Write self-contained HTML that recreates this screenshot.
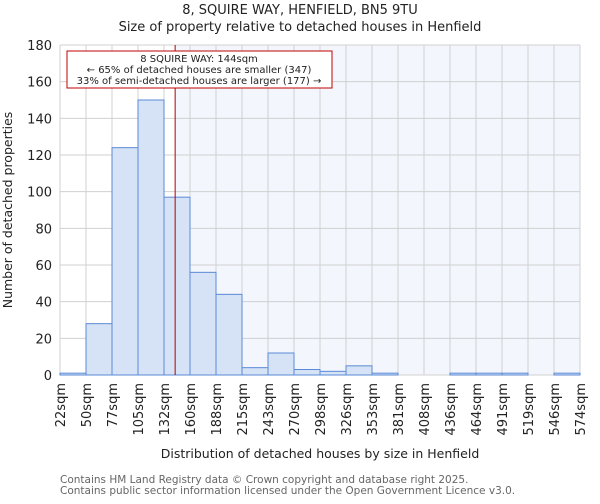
<!DOCTYPE html>
<html><head><meta charset="utf-8"><style>
body{margin:0;background:#fff;font-family:"DejaVu Sans","Liberation Sans",sans-serif;}
svg text{font-family:"DejaVu Sans","Liberation Sans",sans-serif;fill:#222;}
</style></head><body>
<svg id="chart" width="600" height="500" xmlns="http://www.w3.org/2000/svg">
<text x="300" y="14" font-size="13" text-anchor="middle">8, SQUIRE WAY, HENFIELD, BN5 9TU</text>
<text x="300" y="31" font-size="13" text-anchor="middle">Size of property relative to detached houses in Henfield</text>
<g id="plot"></g>
<text x="320" y="458" font-size="12.5" text-anchor="middle">Distribution of detached houses by size in Henfield</text>
<text transform="translate(12,210) rotate(-90)" font-size="12.5" text-anchor="middle">Number of detached properties</text>
<text x="60" y="483" font-size="10.5" fill="#666" style="fill:#666">Contains HM Land Registry data © Crown copyright and database right 2025.</text>
<text x="60" y="494" font-size="10.5" style="fill:#666">Contains public sector information licensed under the Open Government Licence v3.0.</text>
</svg>
<script>
const binLabels=["22sqm","50sqm","77sqm","105sqm","132sqm","160sqm","188sqm","215sqm","243sqm","270sqm","298sqm","326sqm","353sqm","381sqm","408sqm","436sqm","464sqm","491sqm","519sqm","546sqm","574sqm"];
const binEdges=[22,50,77,105,132,160,188,215,243,270,298,326,353,381,408,436,464,491,519,546,574];
const counts=[1,28,124,150,97,56,44,4,12,3,2,5,1,0,0,1,1,1,0,1];
const yTicks=[0,20,40,60,80,100,120,140,160,180];
const propertySize=144;
const annotationLines=["8 SQUIRE WAY: 144sqm","← 65% of detached houses are smaller (347)","33% of semi-detached houses are larger (177) →"];

const NS="http://www.w3.org/2000/svg";
const g=document.getElementById('plot');
const X0=60,X1=580,Y0=375,Y1=45,YMAX=180;
const n=counts.length;
const xi=i=>X0+(X1-X0)*i/n;
function xv(v){let k=0;while(k<binEdges.length-2&&v>binEdges[k+1])k++;return xi(k)+(v-binEdges[k])/(binEdges[k+1]-binEdges[k])*(xi(k+1)-xi(k));}
const y=v=>Y0-(Y0-Y1)*v/YMAX;
function mk(t,a){const e=document.createElementNS(NS,t);for(const k in a)e.setAttribute(k,a[k]);g.appendChild(e);return e;}
const px=xv(propertySize);
let e=mk('rect',{x:px,y:Y1,width:X1-px,height:Y0-Y1,fill:'#f3f6fd'});


yTicks.forEach(t=>{
 let l=mk('line',{x1:X0,x2:X1,y1:y(t),y2:y(t),stroke:'#d0d0d0','stroke-width':1});
 
 
 let tx=mk('text',{x:X0-8,y:y(t)+5,'font-size':13,'text-anchor':'end'});tx.textContent=t;
 
 
});
binLabels.forEach((s,i)=>{
 let l=mk('line',{x1:xi(i),x2:xi(i),y1:Y1,y2:Y0,stroke:'#d0d0d0','stroke-width':1});
 
 
 let tx=mk('text',{transform:`translate(${xi(i)+5},${Y0+8}) rotate(-90)`,'font-size':13,'text-anchor':'end'});tx.textContent=s;
 
 
});
counts.forEach((c,i)=>{
 let r=mk('rect',{x:xi(i),y:y(c),width:xi(i+1)-xi(i),height:Y0-y(c),fill:'#d6e2f5',stroke:'#5a8ad6','stroke-width':1});
 
 
});
let pl=mk('line',{x1:px,x2:px,y1:Y1,y2:Y0,stroke:'#b00000','stroke-width':1});


let bx=mk('rect',{x:67,y:51,width:265,height:37,fill:'#fff',stroke:'#c00000','stroke-width':1});


annotationLines.forEach((s,i)=>{
 let t=mk('text',{x:199,y:62+i*11,'font-size':10,'text-anchor':'middle'});t.textContent=s;
 
 
});
</script>
</body></html>
